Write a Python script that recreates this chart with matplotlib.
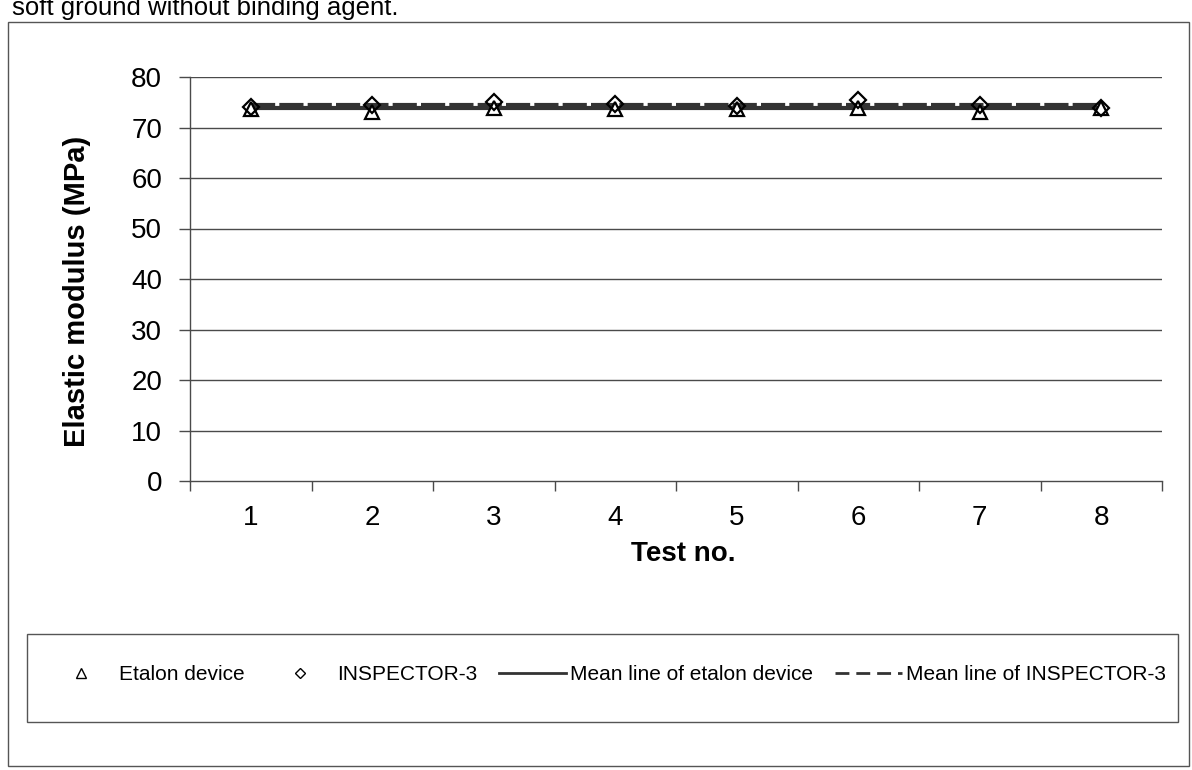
import matplotlib.pyplot as plt
from matplotlib.lines import Line2D
from matplotlib.patches import Rectangle

plt.rcParams['font.family'] = ['Liberation Sans', 'DejaVu Sans']

# values
test_no = [1, 2, 3, 4, 5, 6, 7, 8]
etalon = [73.6, 73.0, 73.8, 73.6, 73.7, 73.8, 73.1, 73.8]
inspector = [74.0, 74.4, 75.0, 74.6, 74.2, 75.4, 74.5, 73.8]
etalon_mean = 73.9
inspector_mean = 74.4
y_ticks = [0, 10, 20, 30, 40, 50, 60, 70, 80]

W, H = 1192, 770
fig = plt.figure(figsize=(W / 100, H / 100), dpi=100)
ax = fig.add_axes([190 / W, 1 - 481 / H, (1162 - 190) / W, (481 - 77) / H])

grid_col = '#4a4a4a'
ax.set_xlim(0.5, 8.5)
ax.set_ylim(0, 80)
for v in y_ticks[1:]:
    ax.axhline(v, color=grid_col, lw=1.0, zorder=1)

# mean lines
ax.plot([test_no[0], test_no[-1]], [etalon_mean] * 2, color='#333333', lw=3, zorder=2)
ax.plot([test_no[0], test_no[-1]], [inspector_mean] * 2, color='#333333', lw=3,
        dashes=(5.8, 1.0), zorder=2)

ax.plot(test_no, etalon, ls='none', marker='^', ms=10, mfc='white', mec='black', mew=1.6, zorder=3)
ax.plot(test_no, inspector, ls='none', marker='D', ms=8, mfc='none', mec='black', mew=1.6, zorder=4)

for s in ['top', 'right']:
    ax.spines[s].set_visible(False)
for s in ['left', 'bottom']:
    ax.spines[s].set_color(grid_col)
    ax.spines[s].set_linewidth(1.0)

ax.set_yticks(y_ticks)
ax.tick_params(axis='y', direction='out', length=8, width=1.0, color=grid_col,
               labelsize=20, pad=12)
# category axis: tick marks between categories, labels in the middle
ax.set_xticks([i + 0.5 for i in range(0, 9)])
ax.set_xticklabels([''] * 9)
ax.set_xticks(test_no, minor=True)
ax.set_xticklabels([str(t) for t in test_no], minor=True)
ax.tick_params(axis='x', which='major', direction='out', length=7, width=1.0, color=grid_col)
ax.tick_params(axis='x', which='minor', length=0, labelsize=20, pad=17)

fig.text(77 / W, 1 - 291 / H, 'Elastic modulus (MPa)', rotation=90, fontsize=21,
         fontweight='bold', ha='center', va='center')
fig.text(683 / W, 1 - 554 / H, 'Test no.', fontsize=20, fontweight='bold',
         ha='center', va='center')

# caption cut off by the scan at the top
fig.text(12 / W, 1 - 15 / H, 'soft ground without binding agent.', fontsize=18.5,
         ha='left', va='baseline')

# outer border and legend box
fig.patches.append(Rectangle((8 / W, 1 - 766 / H), (1189 - 8) / W, (766 - 22) / H,
                             transform=fig.transFigure, fill=False, ec='#555555', lw=1.0))
fig.patches.append(Rectangle((27 / W, 1 - 722 / H), (1178 - 27) / W, (722 - 634) / H,
                             transform=fig.transFigure, fill=False, ec='#555555', lw=1.0))

handles = [
    Line2D([], [], ls='none', marker='^', ms=6.5, mfc='white', mec='black', mew=1.0),
    Line2D([], [], ls='none', marker='D', ms=5.5, mfc='white', mec='black', mew=1.0),
    Line2D([], [], color='#333333', lw=2),
    Line2D([], [], color='#333333', lw=2, dashes=(5, 2.5)),
]
labels = ['Etalon device', 'INSPECTOR-3', 'Mean line of etalon device', 'Mean line of INSPECTOR-3']
fig.legend(handles, labels, loc='center', bbox_to_anchor=(607 / W, 1 - 675 / H),
           ncol=4, frameon=False, fontsize=15, handlelength=3.2, handletextpad=0.2,
           columnspacing=1.05, borderpad=0, borderaxespad=0)

fig.savefig('out.png', dpi=100)
